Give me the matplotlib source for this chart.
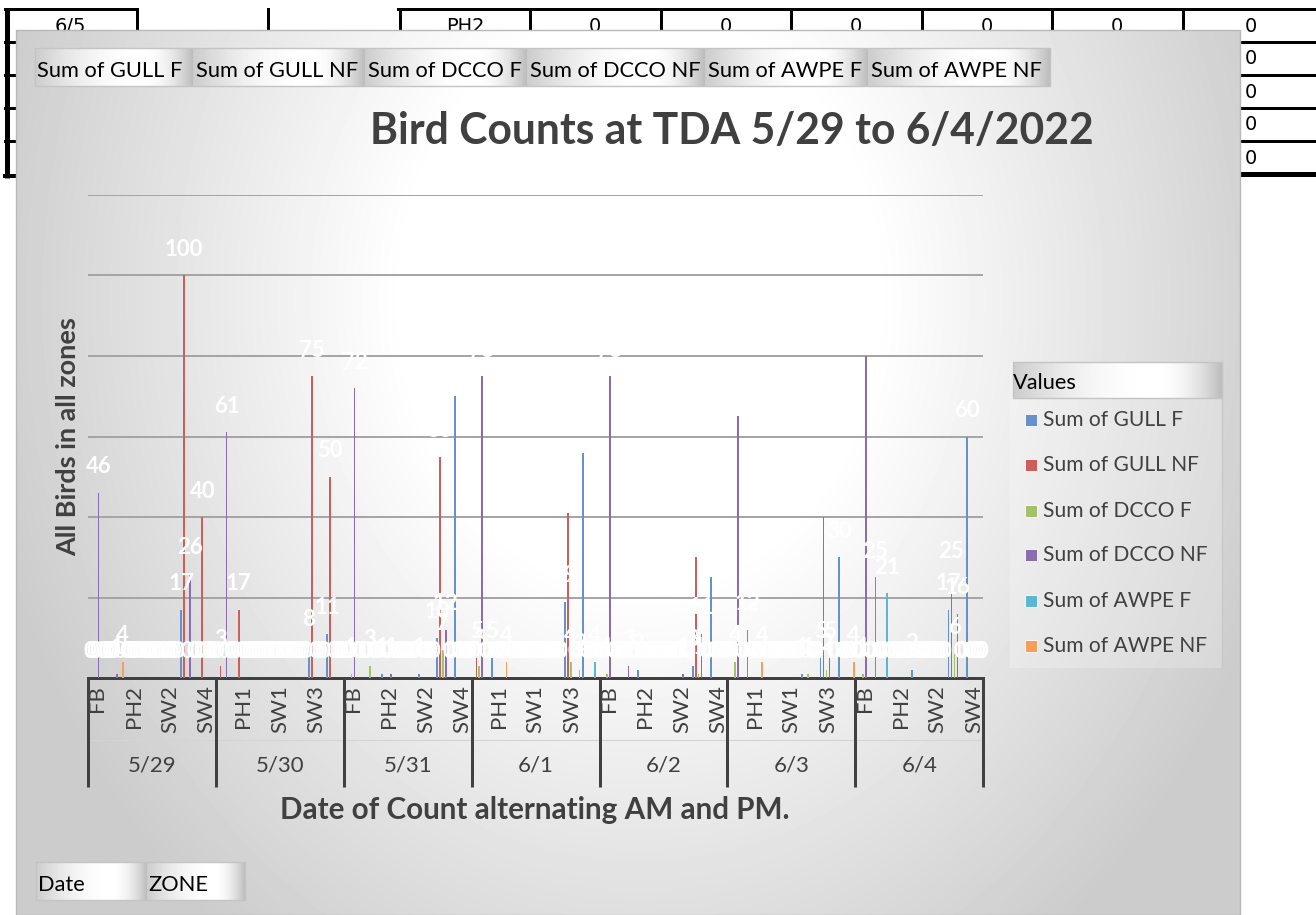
import numpy as np
import matplotlib
matplotlib.use("Agg")
import matplotlib.pyplot as plt
from matplotlib import transforms
from matplotlib.patches import Rectangle

# ---------------- data ----------------
dates = ["5/29", "5/30", "5/31", "6/1", "6/2", "6/3", "6/4"]
zones = ["FB", "PH1", "PH2", "SW1", "SW2", "SW3", "SW4"]
series_names = ["Sum of GULL F", "Sum of GULL NF", "Sum of DCCO F",
                "Sum of DCCO NF", "Sum of AWPE F", "Sum of AWPE NF"]

# one row per date, one value per zone (FB, PH1, PH2, SW1, SW2, SW3, SW4)
gull_f = [[0, 0, 0, 0, 0, 17, 0],
          [0, 0, 0, 0, 0, 8, 11],
          [0, 0, 1, 0, 1, 10, 70],
          [0, 5, 0, 0, 0, 19, 56],
          [0, 0, 2, 0, 0, 3, 25],
          [0, 12, 0, 0, 1, 5, 30],
          [0, 25, 0, 2, 0, 17, 60]]
gull_nf = [[0, 0, 0, 0, 0, 100, 40],
           [3, 17, 0, 0, 0, 75, 50],
           [0, 0, 0, 0, 0, 55, 0],
           [5, 0, 0, 0, 0, 41, 0],
           [0, 0, 0, 0, 0, 30, 0],
           [0, 0, 0, 0, 0, 40, 0],
           [0, 0, 0, 0, 0, 25, 0]]
dcco_f = [[0, 0, 0, 0, 0, 0, 0],
          [0, 0, 0, 0, 0, 0, 0],
          [1, 3, 0, 0, 0, 7, 0],
          [3, 0, 0, 0, 0, 4, 0],
          [1, 0, 0, 0, 0, 1, 0],
          [4, 0, 0, 0, 1, 2, 0],
          [1, 0, 0, 0, 0, 6, 0]]
dcco_nf = [[46, 1, 0, 0, 0, 26, 0],
           [61, 0, 0, 0, 0, 0, 0],
           [72, 0, 1, 0, 0, 12, 0],
           [75, 0, 0, 0, 0, 0, 0],
           [75, 3, 0, 0, 1, 11, 0],
           [65, 0, 0, 0, 0, 5, 0],
           [80, 0, 0, 0, 0, 16, 0]]
awpe_f = [[0, 0, 0, 0, 0, 0, 0],
          [0, 0, 0, 0, 0, 0, 0],
          [0, 0, 0, 0, 0, 0, 0],
          [0, 0, 0, 0, 0, 0, 4],
          [0, 0, 0, 0, 0, 0, 0],
          [0, 0, 0, 0, 0, 0, 0],
          [0, 21, 0, 0, 0, 0, 0]]
awpe_nf = [[0, 4, 0, 0, 0, 0, 0],
           [0, 0, 0, 0, 0, 0, 0],
           [0, 0, 0, 0, 0, 0, 0],
           [0, 4, 0, 0, 0, 2, 0],
           [0, 0, 0, 0, 0, 0, 0],
           [0, 4, 0, 0, 0, 0, 4],
           [0, 0, 0, 0, 0, 0, 0]]

series = [gull_f, gull_nf, dcco_f, dcco_nf, awpe_f, awpe_nf]
colors = ["#6790CC", "#CC5F5B", "#A3C26C", "#8A6DAF", "#5CB6D0", "#F79E5A"]

# table cells peeking out behind the chart
table_row1 = ["6/5", "", "", "PH2", "0", "0", "0", "0", "0"]
table_right_col = ["0", "0", "0", "0", "0"]

# ---------------- figure ----------------
W, H = 1316, 915
fig = plt.figure(figsize=(W / 100, H / 100), dpi=100)
renderer = fig.canvas.get_renderer()
CAL = ["Lato", "DejaVu Sans"]

bg = fig.add_axes([0, 0, 1, 1])
bg.set_zorder(0)
bg.axis("off")


def pt(px):
    return px * 0.72


def fit(t, target, dim="w"):
    bb = t.get_window_extent(renderer)
    cur = bb.width if dim == "w" else bb.height
    t.set_fontsize(t.get_fontsize() * target / cur)
    return t.get_fontsize()


# --- spreadsheet behind ---
K = "black"
bg.plot([7, 7], [8, 178], color=K, lw=pt(5), solid_capstyle="butt", zorder=1)
bg.plot([5, 137], [9, 9], color=K, lw=pt(3), zorder=1)
bg.plot([398, W], [9, 9], color=K, lw=pt(3), zorder=1)
for xv in [137, 268, 400, 530, 661, 791, 922, 1052, 1183]:
    bg.plot([xv, xv], [9, 34], color=K, lw=pt(3), zorder=1)
for yv in [42, 75, 108, 141]:
    bg.plot([1183, W], [yv, yv], color=K, lw=pt(3), zorder=1)
    bg.plot([5, 22], [yv, yv], color=K, lw=pt(3), zorder=1)
bg.plot([1183, W], [174, 174], color=K, lw=pt(5), zorder=1)
bg.plot([5, 22], [176, 176], color=K, lw=pt(4), zorder=1)
col_centers = [70, 202, 334, 465, 595, 726, 856, 987, 1117]
for cx, s in zip(col_centers, table_row1):
    if s:
        bg.text(cx, 26, s, ha="center", va="center", fontsize=14,
                family="DejaVu Sans", color=K, zorder=1)
for i, s in enumerate(table_right_col):
    bg.text(1245, 26 + i * 33, s, ha="left", va="center", fontsize=14,
            family="DejaVu Sans", color=K, zorder=1)

# --- chart area with radial gradient (white centre, grey edges) ---
cx0, cy0, cx1, cy1 = 16, 30, 1240, 915
xs = np.arange(cx0, cx1) + 0.5
ys = np.arange(cy0, cy1) + 0.5
X, Y = np.meshgrid(xs, ys)
dd = np.sqrt(((X - 640) / 430) ** 2 + ((Y - 300) / 520) ** 2)
v = 1 - 0.2 * np.clip((dd - 0.55) / 1.0, 0, 1)
bg.imshow(v, cmap="gray", vmin=0, vmax=1, extent=(cx0, cx1, cy1, cy0),
          aspect="auto", zorder=2, interpolation="bilinear")
bg.add_patch(Rectangle((cx0, cy0), cx1 - cx0, cy1 - cy0, fill=False,
                       edgecolor="#b8b8b8", lw=1, zorder=2.1))


def button_grad(x0, x1, y0, y1, z=3):
    t = np.linspace(0, 1, 200)
    g = np.where(t < 0.68, 1 - 0.20 * ((t - 0.68) / 0.68) ** 2,
                 1 - 0.26 * ((t - 0.68) / 0.32) ** 2)
    bg.imshow(g[None, :], cmap="gray", vmin=0, vmax=1,
              extent=(x0, x1, y1, y0), aspect="auto", zorder=z,
              interpolation="bilinear")


# top field buttons (value fields)
btn_edges = [35, 193, 365, 527, 705, 868, 1050]
for j, name in enumerate(series_names):
    button_grad(btn_edges[j], btn_edges[j + 1], 48, 86)
bg.add_patch(Rectangle((35, 48), 1015, 38, fill=False, edgecolor="#c4c4c4",
                       lw=1, zorder=3.1))
t0 = bg.text(btn_edges[0] + 2, 71, series_names[0], ha="left", va="center",
             family=CAL, fontsize=12, color="black", zorder=4)
fs_btn = fit(t0, 146)
for j, name in enumerate(series_names[1:], start=1):
    bg.text(btn_edges[j] + 3, 71, name, ha="left", va="center", family=CAL,
            fontsize=fs_btn, color="black", zorder=4)

# bottom field buttons (axis fields)
button_grad(36, 147, 862, 900)
button_grad(147, 245, 862, 900)
bg.add_patch(Rectangle((36, 862), 209, 38, fill=False, edgecolor="#c4c4c4",
                       lw=1, zorder=3.1))
bg.text(38, 885, "Date", ha="left", va="center", family=CAL,
        fontsize=fs_btn, color="black", zorder=4)
bg.text(148, 885, "ZONE", ha="left", va="center", family=CAL,
        fontsize=fs_btn, color="black", zorder=4)

# title and axis titles
tt = bg.text(732, 131, "Bird Counts at TDA 5/29 to 6/4/2022", ha="center",
             va="center", family=CAL, weight="bold", fontsize=28,
             color="#404040", zorder=4)
fit(tt, 725)
yl = bg.text(68, 437, "All Birds in all zones", ha="center", va="center",
             rotation=90, family=CAL, weight="bold", fontsize=16,
             color="#404040", zorder=4)
fit(yl, 240, "h")
xl = bg.text(535, 810, "Date of Count alternating AM and PM.", ha="center",
             va="center", family=CAL, weight="bold", fontsize=16,
             color="#404040", zorder=4)
fit(xl, 510)

# legend
bg.add_patch(Rectangle((1010, 362), 212, 306, facecolor="white", alpha=0.22,
                       edgecolor="none", zorder=3))
bg.plot([1222, 1222], [362, 668], color="#c8c8c8", lw=1, zorder=3.1)
button_grad(1013, 1222, 362, 398)
bg.add_patch(Rectangle((1013, 362), 209, 36, fill=False, edgecolor="#c4c4c4",
                       lw=1, zorder=3.1))
vt = bg.text(1013, 383, "Values", ha="left", va="center", family=CAL,
             fontsize=12, color="black", zorder=4)
fit(vt, 64)
leg_y = [420, 465, 511, 555, 601, 646]
for j, name in enumerate(series_names):
    bg.add_patch(Rectangle((1025, leg_y[j] - 6), 12, 12, facecolor=colors[j],
                           edgecolor="white", lw=0.6, zorder=4))
    t = bg.text(1043, leg_y[j], name, ha="left", va="center", family=CAL,
                fontsize=12, color="#404040", zorder=4)
    if j == 0:
        fs_leg = fit(t, 140)
    else:
        t.set_fontsize(fs_leg)

bg.set_xlim(0, W)
bg.set_ylim(H, 0)

# ---------------- plot ----------------
x_left, x_right, y_zero, y_top = 88, 983.3, 678, 195
ax = fig.add_axes([x_left / W, (H - y_zero) / H, (x_right - x_left) / W,
                   (y_zero - y_top) / H])
ax.set_zorder(1)
ax.set_facecolor("none")

n_cat = len(dates) * len(zones)
cats = np.arange(n_cat)
bar_step = 0.1615
bar_w = 0.095
label_off = pt(26)
for k, (data, col) in enumerate(zip(series, colors)):
    vals = np.array(data).ravel()
    xpos = cats + (k - 2.5) * bar_step
    ax.bar(xpos, vals, width=bar_w, color=col, zorder=3, linewidth=0)
    for xp, vv in zip(xpos, vals):
        ax.annotate(str(vv), (xp, vv), xytext=(0, label_off),
                    textcoords="offset points", ha="center", va="center",
                    color="white", weight="bold", family=CAL, fontsize=16,
                    zorder=5, annotation_clip=False)

ax.set_xlim(-0.5, n_cat - 0.5)
ax.set_ylim(0, 120)
ax.set_yticks([20, 40, 60, 80, 100, 120])
ax.yaxis.grid(True, color="#a4a4a4", lw=1.4)
ax.set_axisbelow(True)
ax.tick_params(left=False, labelleft=False, bottom=False, labelbottom=False)
ax.set_xticks([])
for s in ["top", "left", "right"]:
    ax.spines[s].set_visible(False)
ax.spines["bottom"].set_color("#404040")
ax.spines["bottom"].set_linewidth(pt(3))

# multi-level category axis
blend = transforms.blended_transform_factory(ax.transData, bg.transData)
ax.plot([-0.5, n_cat - 0.5], [740, 740], transform=blend, color="#d4d4d4",
        lw=0.8, clip_on=False)
for j in range(len(dates) + 1):
    xs_ = j * len(zones) - 0.5
    ax.plot([xs_, xs_], [677, 787], transform=blend, color="#404040",
            lw=pt(3), clip_on=False, solid_capstyle="butt")
for i in range(0, n_cat, 2):
    ax.text(i, 685, zones[i % len(zones)], rotation=90, ha="center",
            va="top", transform=blend, family=CAL, fontsize=16,
            color="#404040", clip_on=False)
for j, d in enumerate(dates):
    ax.text(j * len(zones) + 3, 766, d, ha="center", va="center",
            transform=blend, family=CAL, fontsize=16, color="#404040",
            clip_on=False)

fig.savefig("out.png", dpi=100)
